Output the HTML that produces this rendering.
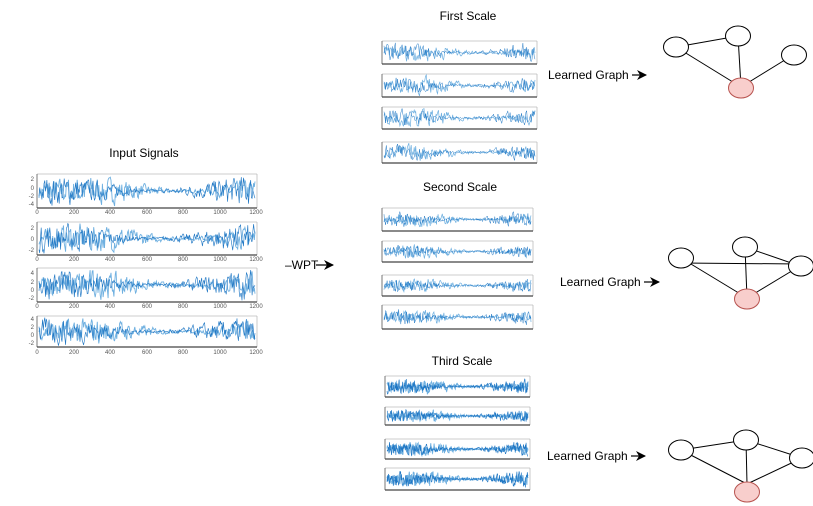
<!DOCTYPE html>
<html><head><meta charset="utf-8"><style>
html,body{margin:0;padding:0;background:#fff;}
svg{display:block;font-family:"Liberation Sans",sans-serif;}
</style></head><body>
<svg id="s" width="813" height="506" viewBox="0 0 813 506" xmlns="http://www.w3.org/2000/svg">
<defs>
<marker id="ah" markerWidth="10" markerHeight="10" refX="9" refY="5" orient="auto" markerUnits="userSpaceOnUse">
<path d="M0,0 L10,5 L0,10 L3,5 z" fill="#000"/>
</marker>
</defs>
<g id="plots"></g>
<text x="144" y="157" font-size="12" text-anchor="middle">Input Signals</text>
<text x="468" y="20" font-size="12" text-anchor="middle">First Scale</text>
<text x="460" y="191" font-size="12" text-anchor="middle">Second Scale</text>
<text x="462" y="365" font-size="12" text-anchor="middle">Third Scale</text>
<text x="285" y="269" font-size="12">–WPT</text>
<line x1="316" y1="265" x2="333" y2="265" stroke="#000" stroke-width="1.2" marker-end="url(#ah)"/>
<text x="548" y="79" font-size="12">Learned Graph</text>
<line x1="632" y1="75" x2="646" y2="75" stroke="#000" stroke-width="1.2" marker-end="url(#ah)"/>
<text x="560" y="286" font-size="12">Learned Graph</text>
<line x1="644" y1="282" x2="659" y2="282" stroke="#000" stroke-width="1.2" marker-end="url(#ah)"/>
<text x="547" y="460" font-size="12">Learned Graph</text>
<line x1="631" y1="456" x2="645" y2="456" stroke="#000" stroke-width="1.2" marker-end="url(#ah)"/>
<g stroke="#000" stroke-width="1" fill="none">
<line x1="676" y1="47" x2="738" y2="36"/><line x1="676" y1="47" x2="741" y2="87"/>
<line x1="738" y1="36" x2="741" y2="87"/><line x1="793" y1="55" x2="741" y2="87"/>
<line x1="681" y1="263" x2="800" y2="264"/><line x1="745" y1="247" x2="747" y2="298"/>
<line x1="745" y1="247" x2="800" y2="266"/><line x1="681" y1="258" x2="747" y2="298"/>
<line x1="800" y1="266" x2="747" y2="298"/>
<line x1="681" y1="450" x2="746" y2="440"/><line x1="746" y1="440" x2="802" y2="458"/>
<line x1="681" y1="450" x2="747" y2="484"/><line x1="746" y1="440" x2="747" y2="484"/>
<line x1="802" y1="458" x2="747" y2="484"/>
</g>
<g stroke="#000" stroke-width="1" fill="#fff">
<ellipse cx="676" cy="47" rx="12.5" ry="10"/><ellipse cx="738" cy="36" rx="12.5" ry="10"/>
<ellipse cx="794" cy="55" rx="12.5" ry="10"/>
<ellipse cx="681" cy="258" rx="12.5" ry="10"/><ellipse cx="745" cy="247" rx="12.5" ry="10"/>
<ellipse cx="801" cy="266" rx="12.5" ry="10"/>
<ellipse cx="681" cy="450" rx="12.5" ry="10"/><ellipse cx="746" cy="440" rx="12.5" ry="10"/>
<ellipse cx="802" cy="458" rx="12.5" ry="10"/>
</g>
<g stroke="#b85450" stroke-width="1" fill="#f8cecc">
<ellipse cx="741" cy="88" rx="12.5" ry="10"/>
<ellipse cx="747" cy="299" rx="12.5" ry="10"/>
<ellipse cx="747" cy="492" rx="12.5" ry="10"/>
</g>
<g font-size="6" fill="#555" text-anchor="middle">
<text x="37" y="214">0</text><text x="74" y="214">200</text><text x="110" y="214">400</text><text x="147" y="214">600</text><text x="183" y="214">800</text><text x="220" y="214">1000</text><text x="256" y="214">1200</text>
<text x="37" y="261">0</text><text x="74" y="261">200</text><text x="110" y="261">400</text><text x="147" y="261">600</text><text x="183" y="261">800</text><text x="220" y="261">1000</text><text x="256" y="261">1200</text>
<text x="37" y="308">0</text><text x="74" y="308">200</text><text x="110" y="308">400</text><text x="147" y="308">600</text><text x="183" y="308">800</text><text x="220" y="308">1000</text><text x="256" y="308">1200</text>
<text x="37" y="354">0</text><text x="74" y="354">200</text><text x="110" y="354">400</text><text x="147" y="354">600</text><text x="183" y="354">800</text><text x="220" y="354">1000</text><text x="256" y="354">1200</text>
</g>
<g font-size="6" fill="#555" text-anchor="end">
<text x="34" y="181">2</text><text x="34" y="190">0</text><text x="34" y="198">-2</text><text x="34" y="206">-4</text>
<text x="34" y="230">2</text><text x="34" y="241">0</text><text x="34" y="252">-2</text>
<text x="34" y="275">4</text><text x="34" y="284">2</text><text x="34" y="292">0</text><text x="34" y="300">-2</text>
<text x="34" y="321">4</text><text x="34" y="329">2</text><text x="34" y="337">0</text><text x="34" y="345">-2</text>
</g>
</svg>
<script>
var g=document.getElementById('plots'),NS='http://www.w3.org/2000/svg';
var seed=7;function r(){seed=(seed*16807)%2147483647;return seed/2147483647;}
function L(x1,y1,x2,y2,c,w){var b=document.createElementNS(NS,'line');b.setAttribute('x1',x1);b.setAttribute('x2',x2);b.setAttribute('y1',y1);b.setAttribute('y2',y2);b.setAttribute('stroke',c);b.setAttribute('stroke-width',w);g.appendChild(b);}
function panel(x1,y1,x2,y2,n,amp,bw){
 L(x1,y1,x2,y1,'#bbb',0.8);L(x2,y1,x2,y2,'#bbb',0.8);
 L(x1,y1,x1,y2,'#555',0.8);L(x1,y2,x2,y2,'#444',1.2);
 var cy=(y1+y2)/2,h=(y2-y1)/2;
 [['#6fb0e0',bw],['#1f77c4',bw*0.7]].forEach(function(st,k){
 var pts=[],v=0;
 for(var i=0;i<=n;i++){var x=x1+2+(x2-x1-4)*i/n;var env=0.55+0.45*Math.sin(i/n*7+k);
  v=0.35*v+(r()-0.5)*2*amp*env;var y=cy-v*h;y=Math.max(y1+1,Math.min(y2-1,y));pts.push(x.toFixed(1)+','+y.toFixed(1));}
 var p=document.createElementNS(NS,'polyline');p.setAttribute('points',pts.join(' '));
 p.setAttribute('fill','none');p.setAttribute('stroke',st[0]);p.setAttribute('stroke-width',st[1]);g.appendChild(p);});
}
[[174,208],[222,255],[268,302],[316,347]].forEach(function(q){panel(37,q[0],257,q[1],300,0.75,0.9);});
[[41,64],[74,97],[107,129],[142,163]].forEach(function(q){panel(382,q[0],537,q[1],200,0.7,0.7);});
[[208,231],[241,262],[275,296],[305,329]].forEach(function(q){panel(382,q[0],533,q[1],280,0.55,0.7);});
[[376,397],[407,425],[439,459],[468,490]].forEach(function(q){panel(385,q[0],530,q[1],380,0.6,0.9);});
</script>
</body></html>
